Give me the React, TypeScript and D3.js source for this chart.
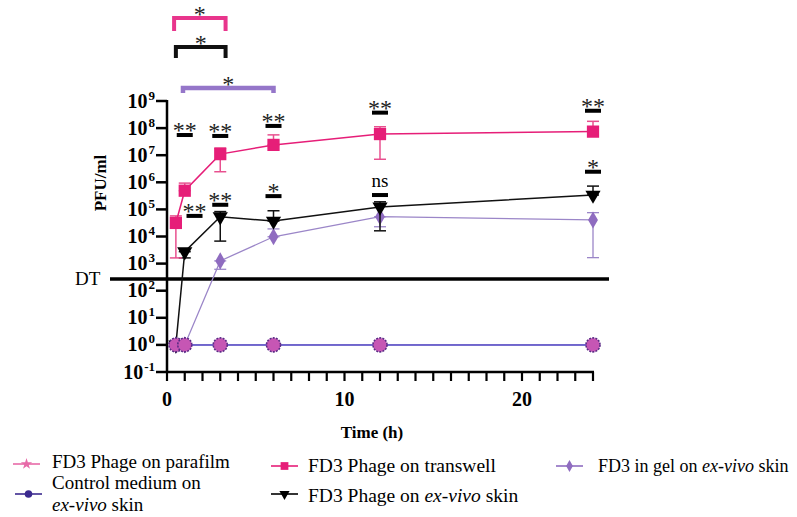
import { useEffect, useRef } from 'react';
import * as d3 from 'd3';

// Sampling times (h)
const times = [0.5, 1, 3, 6, 12, 24];

// log10(PFU/ml): mean, upper and lower error bar ends
const transwellMean = [4.5, 5.69, 7.04, 7.38, 7.78, 7.87];
const transwellHi = [4.76, 5.97, 7.27, 7.75, 8.05, 8.25];
const transwellLo = [3.21, 5.69, 6.39, 7.38, 6.85, 7.87];

const skinMean = [0, 3.44, 4.73, 4.57, 5.09, 5.53];
const skinHi = [0, 3.44, 4.92, 4.95, 5.28, 5.86];
const skinLo = [0, 3.21, 3.83, 4.57, 4.21, 5.53];

const gelMean = [0, 0, 3.1, 3.99, 4.73, 4.61];
const gelHi = [0, 0, 3.1, 4.28, 4.73, 4.88];
const gelLo = [0, 0, 2.79, 3.99, 4.36, 3.22];

const controlMean = [0, 0, 0, 0, 0, 0];
const parafilmMean = [0, 0, 0, 0, 0, 0];

const yTickPowers = [-1, 0, 1, 2, 3, 4, 5, 6, 7, 8, 9];
const xMinorTicks = d3.range(0, 25, 1);
const xLabelTicks = [0, 10, 20];
const detectionLimit = 2.43; // log10, "DT"

// significance marks over the transwell series
const sigTopTimes = [1, 3, 6, 12, 24];
const sigTopLevels = [7.745, 7.71, 8.08, 8.57, 8.64];
const sigTopLabels = ['**', '**', '**', '**', '**'];

// significance marks over the ex-vivo skin series
const sigSkinTimes = [1.55, 3, 6, 12, 24];
const sigSkinLevels = [4.76, 5.17, 5.49, 5.53, 6.39];
const sigSkinLabels = ['**', '**', '*', 'ns', '*'];

// comparison brackets above the plot
const bracketFrom = [0.4, 0.5, 0.9];
const bracketTo = [3.3, 3.3, 6];
const bracketLevels = [12.06, 10.99, 9.48];
const bracketLegs = [13, 11, 5];
const bracketColors = ['#e8358c', '#111111', '#9576c9'];

const PINK = '#e61e78';
const PURPLE = '#8f6cc0';
const FONT = '"Liberation Serif", "Times New Roman", serif';

export default function App() {
  const svgRef = useRef<SVGSVGElement>(null);

  useEffect(() => {
    if (!svgRef.current) return;
    const svg = d3.select(svgRef.current);
    svg.selectAll('*').remove();

    const x = d3.scaleLinear().domain([0, 24]).range([167, 593]);
    const y = d3.scaleLinear().domain([-1, 9]).range([372, 101]);

    const g = svg.append('g').style('font-family', FONT);

    // Y axis
    g.append('line')
      .attr('x1', x(0)).attr('x2', x(0))
      .attr('y1', y(9) - 1).attr('y2', y(-1) + 1)
      .attr('stroke', '#000').attr('stroke-width', 2.5);
    g.selectAll('.ytick')
      .data(yTickPowers)
      .join('line')
      .attr('x1', x(0) - 11).attr('x2', x(0))
      .attr('y1', d => y(d)).attr('y2', d => y(d))
      .attr('stroke', '#000').attr('stroke-width', 2.5);
    const ylab = g.selectAll('.ylab')
      .data(yTickPowers)
      .join('text')
      .attr('x', 155)
      .attr('y', d => y(d) + 6.5)
      .attr('text-anchor', 'end')
      .style('font-size', '20px')
      .style('font-weight', 'bold');
    ylab.append('tspan').text('10');
    ylab.append('tspan')
      .attr('dx', 1)
      .attr('dy', -8)
      .style('font-size', '13px')
      .text(d => String(d));

    // X axis
    g.append('line')
      .attr('x1', x(0) - 1).attr('x2', x(24) + 1)
      .attr('y1', y(-1)).attr('y2', y(-1))
      .attr('stroke', '#000').attr('stroke-width', 2.5);
    g.selectAll('.xtick')
      .data(xMinorTicks)
      .join('line')
      .attr('x1', d => x(d)).attr('x2', d => x(d))
      .attr('y1', y(-1)).attr('y2', y(-1) + 9)
      .attr('stroke', '#000').attr('stroke-width', 2.2);
    g.selectAll('.xlab')
      .data(xLabelTicks)
      .join('text')
      .attr('x', d => x(d))
      .attr('y', 406)
      .attr('text-anchor', 'middle')
      .style('font-size', '20px')
      .style('font-weight', 'bold')
      .text(d => d);

    g.append('text')
      .attr('x', 372).attr('y', 438)
      .attr('text-anchor', 'middle')
      .style('font-size', '17px').style('font-weight', 'bold')
      .text('Time (h)');

    g.append('text')
      .attr('transform', `translate(106, 183) rotate(-90)`)
      .attr('text-anchor', 'middle')
      .style('font-size', '17px').style('font-weight', 'bold')
      .text('PFU/ml');

    // Detection limit
    g.append('line')
      .attr('x1', 110).attr('x2', 609)
      .attr('y1', y(detectionLimit)).attr('y2', y(detectionLimit))
      .attr('stroke', '#000').attr('stroke-width', 3.5);
    g.append('text')
      .attr('x', 75).attr('y', y(detectionLimit) + 6)
      .style('font-size', '19px')
      .text('DT');

    const line = d3.line<number>()
      .x((_, i) => x(times[i]))
      .y(d => y(d));

    const drawErrors = (hi: number[], lo: number[], color: string, w: number) => {
      times.forEach((t, i) => {
        const cx = x(t);
        if (hi[i] !== lo[i]) {
          g.append('line')
            .attr('x1', cx).attr('x2', cx)
            .attr('y1', y(hi[i])).attr('y2', y(lo[i]))
            .attr('stroke', color).attr('stroke-width', w);
        }
        [hi[i], lo[i]].forEach(v => {
          g.append('line')
            .attr('x1', cx - 6).attr('x2', cx + 6)
            .attr('y1', y(v)).attr('y2', y(v))
            .attr('stroke', color).attr('stroke-width', w);
        });
      });
    };

    // Control medium line
    g.append('path')
      .attr('d', line(controlMean))
      .attr('fill', 'none').attr('stroke', '#5a55c8').attr('stroke-width', 1.5);
    g.append('path')
      .attr('d', line(parafilmMean))
      .attr('fill', 'none').attr('stroke', '#6a5cc8').attr('stroke-width', 1.2);

    // Gel series
    drawErrors(gelHi, gelLo, '#9b86c8', 1.3);
    g.append('path')
      .attr('d', line(gelMean))
      .attr('fill', 'none').attr('stroke', '#9b86c8').attr('stroke-width', 1.3);
    g.selectAll('.gel')
      .data(gelMean)
      .join('path')
      .attr('transform', (d, i) => `translate(${x(times[i])},${y(d)})`)
      .attr('d', d3.symbol().type(d3.symbolDiamond).size(85)())
      .attr('fill', PURPLE);

    // Skin series
    drawErrors(skinHi, skinLo, '#111', 1.5);
    g.append('path')
      .attr('d', line(skinMean))
      .attr('fill', 'none').attr('stroke', '#111').attr('stroke-width', 1.5);
    g.selectAll('.skin')
      .data(skinMean)
      .join('path')
      .attr('transform', (d, i) => `translate(${x(times[i])},${y(d)}) rotate(180)`)
      .attr('d', d3.symbol().type(d3.symbolTriangle).size(100)())
      .attr('fill', '#000');

    // Transwell series
    drawErrors(transwellHi, transwellLo, '#e8508f', 1.5);
    g.append('path')
      .attr('d', line(transwellMean))
      .attr('fill', 'none').attr('stroke', PINK).attr('stroke-width', 1.5);
    g.selectAll('.tw')
      .data(transwellMean)
      .join('path')
      .attr('transform', (d, i) => `translate(${x(times[i])},${y(d)})`)
      .attr('d', d3.symbol().type(d3.symbolSquare).size(150)())
      .attr('fill', PINK);

    // Control / parafilm circles
    g.selectAll('.ctrl')
      .data(controlMean)
      .join('circle')
      .attr('cx', (_, i) => x(times[i]))
      .attr('cy', d => y(d))
      .attr('r', 7)
      .attr('fill', '#c656b4')
      .attr('stroke', '#5b2a86')
      .attr('stroke-width', 1.6)
      .attr('stroke-dasharray', '2,1.2');

    // Significance marks
    const drawSig = (ts: number[], lv: number[], lb: string[]) => {
      ts.forEach((t, i) => {
        const cx = x(t);
        const cy = y(lv[i]);
        g.append('rect')
          .attr('x', cx - 8).attr('y', cy - 2)
          .attr('width', 16).attr('height', 4)
          .attr('fill', '#000');
        g.append('text')
          .attr('x', cx).attr('y', lb[i] === 'ns' ? cy - 8 : cy + 3)
          .attr('text-anchor', 'middle')
          .style('font-size', lb[i] === 'ns' ? '19px' : '24px')
          .style('fill', lb[i] === 'ns' ? '#000' : '#222')
          .text(lb[i]);
      });
    };
    drawSig(sigTopTimes, sigTopLevels, sigTopLabels);
    drawSig(sigSkinTimes, sigSkinLevels, sigSkinLabels);

    // Brackets
    bracketFrom.forEach((f, i) => {
      const x1 = x(f);
      const x2 = x(bracketTo[i]);
      const by = y(bracketLevels[i]);
      g.append('path')
        .attr('d', `M${x1},${by + bracketLegs[i]}V${by}H${x2}V${by + bracketLegs[i]}`)
        .attr('fill', 'none')
        .attr('stroke', bracketColors[i])
        .attr('stroke-width', i === 2 ? 4.5 : 4);
      g.append('text')
        .attr('x', (x1 + x2) / 2).attr('y', by + 4)
        .attr('text-anchor', 'middle')
        .style('font-size', '24px')
        .style('fill', '#222')
        .text('*');
    });

    // Legend
    const fs = '19.5px';
    const legendItem = (lx: number, ly: number, color: string, sym: d3.SymbolType | null, size: number, rot = 0) => {
      g.append('line')
        .attr('x1', lx).attr('x2', lx + 27)
        .attr('y1', ly).attr('y2', ly)
        .attr('stroke', color).attr('stroke-width', 1.6);
      if (sym) {
        g.append('path')
          .attr('transform', `translate(${lx + 13.5},${ly}) rotate(${rot})`)
          .attr('d', d3.symbol().type(sym).size(size)())
          .attr('fill', color);
      }
    };
    legendItem(13, 464, '#e76aa8', d3.symbolStar, 40);
    g.append('text').attr('x', 52).attr('y', 468).style('font-size', '19px')
      .text('FD3 Phage on parafilm');

    legendItem(15, 494, '#3b2a8f', d3.symbolCircle, 45);
    g.append('text').attr('x', 52).attr('y', 489).style('font-size', '19px')
      .text('Control medium on');
    const ctl2 = g.append('text').attr('x', 52).attr('y', 511).style('font-size', '19px');
    ctl2.append('tspan').style('font-style', 'italic').text('ex-vivo');
    ctl2.append('tspan').text(' skin');

    legendItem(271, 466, PINK, d3.symbolSquare, 60);
    g.append('text').attr('x', 308).attr('y', 472).style('font-size', fs)
      .text('FD3 Phage on transwell');

    legendItem(271, 494, '#000', d3.symbolTriangle, 45, 180);
    const sk = g.append('text').attr('x', 308).attr('y', 502).style('font-size', fs);
    sk.append('tspan').text('FD3 Phage on ');
    sk.append('tspan').style('font-style', 'italic').text('ex-vivo');
    sk.append('tspan').text(' skin');

    legendItem(556, 466, PURPLE, d3.symbolDiamond, 40);
    const gl = g.append('text').attr('x', 598).attr('y', 472).style('font-size', '18px');
    gl.append('tspan').text('FD3 in gel on ');
    gl.append('tspan').style('font-style', 'italic').text('ex-vivo');
    gl.append('tspan').text(' skin');
  }, []);

  return (
    <div style={{ position: 'absolute', left: 0, top: 0 }}>
      <svg ref={svgRef} width={797} height={517} style={{ display: 'block', background: '#fff' }} />
    </div>
  );
}
